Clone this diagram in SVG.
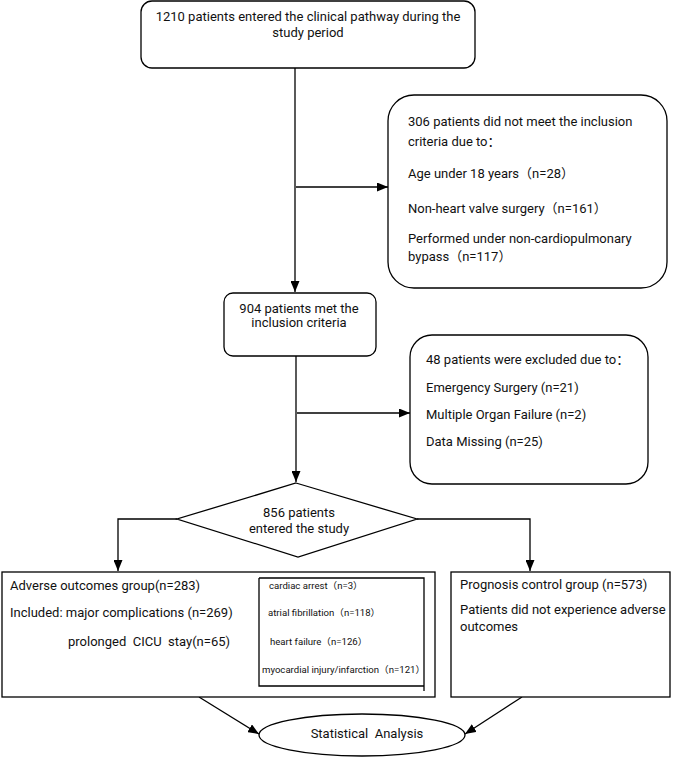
<svg xmlns="http://www.w3.org/2000/svg" width="685" height="758" viewBox="0 0 685 758">
<defs>
<marker id="ah" markerWidth="11" markerHeight="9" refX="11" refY="4.5" orient="auto" markerUnits="userSpaceOnUse"><path d="M0,0 L11,4.5 L0,9 z" fill="#000"/></marker>
<style>
.b{fill:#fff;stroke:#000;stroke-width:1.3}
.c{fill:none;stroke:#000;stroke-width:1.3}
text{font-family:Roboto,"Noto Sans CJK SC",sans-serif;font-size:13px;fill:#111;white-space:pre}
.m{text-anchor:middle}
.s{font-size:9.6px}
</style>
</defs>
<rect width="685" height="758" fill="#fff"/>
<g id="connectors">
<path class="c" d="M295,68 V292" marker-end="url(#ah)"/>
<path class="c" d="M296,187 H388" marker-end="url(#ah)"/>
<path class="c" d="M296,356 V482" marker-end="url(#ah)"/>
<path class="c" d="M297,413 H410" marker-end="url(#ah)"/>
<path class="c" d="M177,519 H118 V571" marker-end="url(#ah)"/>
<path class="c" d="M417,519 H530 V571" marker-end="url(#ah)"/>
<path class="c" d="M236,613 H259" marker-end="url(#ah)"/>
<path class="c" d="M199,697 L259,734" marker-end="url(#ah)"/>
<path class="c" d="M522,697 L465,734" marker-end="url(#ah)"/>
</g>
<g id="n1210">
<rect class="b" x="141" y="1" width="334" height="67" rx="11"/>
<text class="m" x="308" y="21">1210 patients entered the clinical pathway during the</text>
<text class="m" x="308" y="37">study period</text>
</g>
<g id="n306">
<rect class="b" x="388" y="95" width="279" height="193" rx="26"/>
<text x="408" y="126">306 patients did not meet the inclusion</text>
<text x="408" y="146">criteria due to：</text>
<text x="408" y="178">Age under 18 years（n=28）</text>
<text x="408" y="213">Non-heart valve surgery（n=161）</text>
<text x="408" y="243">Performed under non-cardiopulmonary</text>
<text x="408" y="261">bypass（n=117）</text>
</g>
<g id="n904">
<rect class="b" x="224" y="293" width="152" height="63" rx="9"/>
<text class="m" x="299" y="313">904 patients met the</text>
<text class="m" x="299" y="327">inclusion criteria</text>
</g>
<g id="n48">
<rect class="b" x="410" y="335" width="238" height="149" rx="22"/>
<text x="426" y="364">48 patients were excluded due to：</text>
<text x="426" y="392">Emergency Surgery (n=21)</text>
<text x="426" y="419">Multiple Organ Failure (n=2)</text>
<text x="426" y="446">Data Missing (n=25)</text>
</g>
<g id="n856">
<polygon class="b" points="296,483 417,519 298,557 177,519"/>
<text class="m" x="299" y="517">856 patients</text>
<text class="m" x="299" y="533">entered the study</text>
</g>
<g id="adverse">
<rect class="b" x="2" y="572" width="433" height="125"/>
<text x="10" y="590">Adverse outcomes group(n=283)</text>
<text x="10" y="617">Included: major complications (n=269)</text>
<text x="68" y="646">prolonged  CICU  stay(n=65)</text>
</g>
<g id="complications">
<path class="c" d="M259,578 H424 V691 M259,578 V686 H424"/>
<text class="s" x="269" y="589">cardiac arrest（n=3）</text>
<text class="s" x="268" y="616">atrial fibrillation（n=118）</text>
<text class="s" x="270" y="645">heart failure（n=126）</text>
<text class="s" x="262" y="673">myocardial injury/infarction（n=121）</text>
</g>
<g id="control">
<rect class="b" x="451" y="572" width="219" height="125"/>
<text x="460" y="589">Prognosis control group (n=573)</text>
<text x="460" y="614">Patients did not experience adverse</text>
<text x="460" y="631">outcomes</text>
</g>
<g id="analysis">
<ellipse class="b" cx="362" cy="735" rx="103" ry="21"/>
<text class="m" x="367" y="738">Statistical  Analysis</text>
</g>
</svg>
